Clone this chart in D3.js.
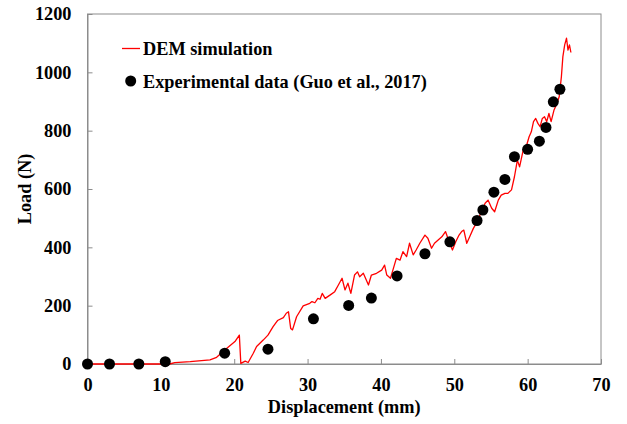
<!DOCTYPE html>
<html>
<head>
<meta charset="utf-8">
<script src="https://cdn.jsdelivr.net/npm/d3@7"></script>
<style>
  body { margin: 0; background: #fff; }
  text { font-family: "Liberation Serif", "Times New Roman", serif; font-weight: bold; }
</style>
</head>
<body>
<svg id="canvas" width="627" height="424"></svg>
<script>
// DEM simulation curve (displacement mm, load N)
let demX = [0, 11.2, 11.9, 14, 16.7, 17.6, 19.0, 20.1, 20.7, 20.9, 21.5, 21.9, 22.6, 23.05, 23.95, 24.6,
  25.3, 25.9, 26.7, 27.1, 27.4, 27.7, 27.95, 28.5, 29.4, 30.3, 30.6, 31.0, 31.4, 31.7, 32.0, 32.4,
  33.1, 33.7, 34.2, 34.7, 35.1, 35.5, 35.9, 36.4, 36.8, 37.1, 37.6, 37.9, 38.3, 38.7, 39.4, 40.1,
  40.5, 40.8, 41.3, 41.7, 42.1, 42.6, 43.0, 43.5, 43.9, 44.4, 44.8, 45.3, 46.0, 46.4, 46.9, 47.3,
  47.8, 48.3, 48.8, 49.3, 49.75, 50.2, 50.65, 51.0, 51.3, 51.7, 52.1, 52.6, 53.0, 53.5, 54.2, 54.6,
  55.1, 55.5, 56.0, 56.4, 56.9, 57.3, 57.8, 58.2, 58.6, 58.9, 59.4, 59.8, 60.2, 60.5, 60.8, 61.1,
  61.4, 61.7, 62.0, 62.3, 62.6, 62.9, 63.2, 63.6, 63.9, 64.3, 64.6, 64.8, 65.05, 65.3, 65.5, 65.7, 65.9];
let demY = [0, 0, 5, 8, 14, 23, 54, 77, 99, 2, 10, 5, 37, 60, 82, 99,
  128, 149, 159, 174, 179, 122, 117, 162, 199, 208, 214, 210, 225, 222, 242, 225,
  237, 248, 271, 294, 254, 277, 242, 305, 316, 299, 311, 294, 271, 305, 311, 322,
  339, 305, 294, 328, 362, 356, 385, 368, 414, 374, 391, 414, 442, 431, 397, 414,
  425, 436, 454, 419, 391, 419, 442, 454, 459, 414, 436, 465, 482, 511, 551, 562,
  534, 522, 562, 579, 585, 585, 597, 642, 699, 676, 734, 745, 779, 796, 831, 842,
  825, 814, 842, 848, 831, 859, 831, 871, 888, 916, 985, 1053, 1094, 1117, 1076, 1094, 1068];

// Experimental data (Guo et al., 2017)
let expX = [0, 3, 7, 10.6, 18.7, 24.6, 30.8, 35.6, 38.7, 42.2, 46.0, 49.4, 53.1, 53.9, 55.4, 56.9, 58.2, 60.0, 61.6, 62.5, 63.5, 64.4];
let expY = [0, 0, 0, 8, 37, 51, 155, 201, 226, 302, 378, 419, 492, 528, 589, 633, 711, 736, 764, 811, 899, 942];

let xTicks = [0, 10, 20, 30, 40, 50, 60, 70];
let yTicks = [0, 200, 400, 600, 800, 1000, 1200];

let margin = { left: 87.5, right: 26, top: 14, bottom: 60 };
let width = 627, height = 424;
let gray = "#8c8c8c";
let fontSize = "18.3px";

let canvas = d3.select("#canvas");

let xScale = d3.scaleLinear().domain([0, 70]).range([margin.left, width - margin.right]);
let yScale = d3.scaleLinear().domain([0, 1200]).range([height - margin.bottom, margin.top]);

// frame
canvas.append("rect")
  .attr("x", xScale(0)).attr("y", yScale(1200))
  .attr("width", xScale(70) - xScale(0)).attr("height", yScale(0) - yScale(1200))
  .attr("fill", "none").attr("stroke", gray).attr("stroke-width", 1);

let xAxis = d3.axisBottom(xScale).tickValues(xTicks).tickFormat(d3.format("d"))
  .tickSizeInner(-5).tickSizeOuter(0).tickPadding(14);
let yAxis = d3.axisLeft(yScale).tickValues(yTicks).tickFormat(d3.format("d"))
  .tickSizeInner(-5).tickSizeOuter(0).tickPadding(16);

let gx = canvas.append("g").attr("transform", "translate(0," + yScale(0) + ")").call(xAxis);
let gy = canvas.append("g").attr("transform", "translate(" + xScale(0) + ",0)").call(yAxis);
[gx, gy].forEach(g => {
  g.selectAll("path, line").attr("stroke", gray);
  g.selectAll("text").attr("fill", "#000")
    .style("font-family", "'Liberation Serif', serif")
    .style("font-weight", "bold").style("font-size", fontSize);
});

// axis titles
canvas.append("text")
  .attr("x", (xScale(0) + xScale(70)) / 2).attr("y", 413)
  .attr("text-anchor", "middle").style("font-size", fontSize)
  .text("Displacement (mm)");
canvas.append("text")
  .attr("transform", "translate(31," + (yScale(0) + yScale(1200)) / 2 + ") rotate(-90)")
  .attr("text-anchor", "middle").style("font-size", fontSize)
  .text("Load (N)");

// DEM line
let demData = demX.map((x, i) => [x, demY[i]]);
let line = d3.line().x(d => xScale(d[0])).y(d => yScale(d[1]));
canvas.append("path")
  .datum(demData)
  .attr("d", line)
  .attr("fill", "none")
  .attr("stroke", "#ff0000")
  .attr("stroke-width", 1.3)
  .attr("stroke-linejoin", "round");

// experimental points
canvas.selectAll("circle.exp")
  .data(expX.map((x, i) => [x, expY[i]]))
  .enter()
  .append("circle")
  .attr("class", "exp")
  .attr("cx", d => xScale(d[0]))
  .attr("cy", d => yScale(d[1]))
  .attr("r", 5.5)
  .attr("fill", "#000");

// legend
let legend = canvas.append("g");
legend.append("line")
  .attr("x1", 122).attr("x2", 140).attr("y1", 48.5).attr("y2", 48.5)
  .attr("stroke", "#ff0000").attr("stroke-width", 1.3);
legend.append("text").attr("x", 143).attr("y", 54.5).style("font-size", fontSize)
  .text("DEM simulation");
legend.append("circle").attr("cx", 130.7).attr("cy", 81).attr("r", 5.5).attr("fill", "#000");
legend.append("text").attr("x", 143).attr("y", 87.5).style("font-size", fontSize)
  .text("Experimental data (Guo et al., 2017)");
</script>
</body>
</html>
